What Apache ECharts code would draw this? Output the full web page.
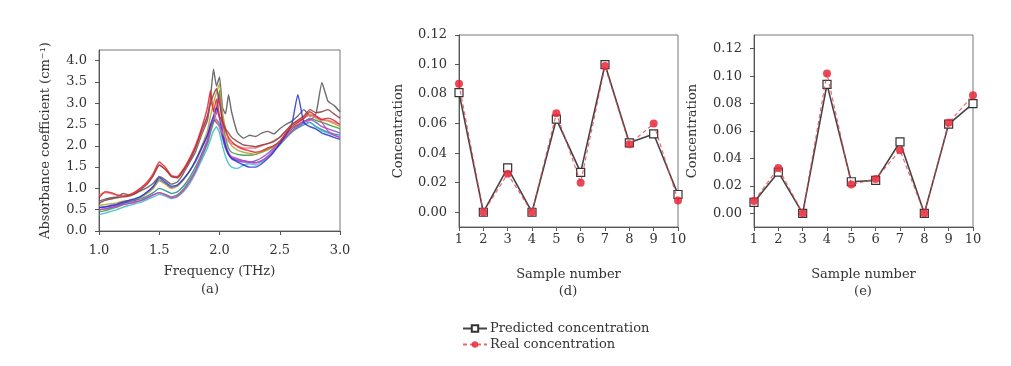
<!DOCTYPE html>
<html><head><meta charset="utf-8">
<script src="https://cdn.jsdelivr.net/npm/echarts@6/dist/echarts.min.js"></script>
<style>html,body{margin:0;padding:0;background:#fff}#c{width:1011px;height:366px}</style>
</head><body><div id="c"></div>
<script>
// ---- Panel (a): absorbance spectra ----
const freq = [1.00,1.05,1.10,1.15,1.20,1.25,1.30,1.35,1.40,1.45,1.50,1.55,1.60,1.65,1.70,1.75,1.80,1.85,1.90,1.925,1.95,1.975,2.00,2.025,2.05,2.075,2.10,2.15,2.20,2.25,2.30,2.35,2.40,2.45,2.50,2.55,2.60,2.65,2.70,2.75,2.80,2.85,2.90,2.95,3.00];
const specGray   = [0.70,0.75,0.78,0.80,0.88,0.85,0.88,0.95,1.02,1.12,1.28,1.20,1.10,1.15,1.35,1.60,1.85,2.25,2.60,3.10,3.80,3.40,3.62,2.90,2.75,3.20,2.80,2.30,2.18,2.25,2.22,2.30,2.34,2.28,2.40,2.50,2.58,2.70,2.85,2.70,2.75,3.48,3.05,2.95,2.80];
const specRed    = [0.78,0.92,0.90,0.85,0.82,0.85,0.92,1.02,1.15,1.35,1.62,1.50,1.30,1.28,1.45,1.70,2.00,2.40,2.90,3.30,2.80,3.10,2.70,2.55,2.35,2.20,2.10,1.98,1.92,1.88,1.85,1.88,1.95,2.00,2.10,2.30,2.45,2.55,2.65,2.80,2.70,2.62,2.65,2.60,2.50];
const specBrown  = [0.65,0.72,0.75,0.78,0.80,0.82,0.88,0.98,1.10,1.30,1.55,1.45,1.28,1.25,1.42,1.65,1.95,2.35,2.70,3.00,3.20,3.35,3.00,2.60,2.40,2.30,2.20,2.10,2.02,2.00,1.98,2.02,2.05,2.10,2.20,2.35,2.50,2.60,2.70,2.85,2.78,2.80,2.85,2.75,2.65];
const specBlue   = [0.55,0.57,0.60,0.63,0.68,0.72,0.76,0.82,0.92,1.05,1.25,1.15,1.05,1.08,1.22,1.40,1.65,1.95,2.25,2.50,2.70,2.90,2.65,2.30,2.00,1.80,1.70,1.62,1.55,1.50,1.50,1.58,1.70,1.85,2.05,2.25,2.50,3.20,2.55,2.45,2.40,2.30,2.25,2.20,2.15];
const specMagenta= [0.50,0.52,0.55,0.58,0.62,0.65,0.68,0.72,0.78,0.85,0.90,0.85,0.78,0.82,0.95,1.15,1.40,1.75,2.10,2.40,2.65,2.75,3.20,2.40,2.05,1.85,1.75,1.70,1.65,1.62,1.60,1.65,1.75,1.90,2.05,2.20,2.35,2.45,2.55,2.60,2.70,2.55,2.35,2.25,2.20];
const specGreen  = [0.45,0.48,0.52,0.56,0.62,0.65,0.68,0.72,0.78,0.85,0.90,0.86,0.80,0.85,0.98,1.18,1.42,1.72,2.05,2.30,2.55,2.90,3.30,2.60,2.20,1.95,1.85,1.80,1.78,1.78,1.80,1.85,1.92,2.00,2.10,2.25,2.40,2.48,2.55,2.65,2.60,2.55,2.50,2.45,2.40];
const specCyan   = [0.38,0.42,0.46,0.50,0.56,0.60,0.64,0.68,0.74,0.80,0.86,0.82,0.76,0.80,0.92,1.10,1.35,1.65,1.95,2.15,2.35,2.45,2.30,2.00,1.75,1.58,1.50,1.47,1.55,1.58,1.55,1.62,1.75,1.90,2.05,2.20,2.35,2.45,2.50,2.55,2.45,2.35,2.30,2.25,2.20];
const specOlive  = [0.60,0.62,0.64,0.66,0.70,0.72,0.75,0.80,0.88,1.00,1.18,1.10,1.00,1.05,1.20,1.40,1.65,1.98,2.35,2.70,3.00,3.25,3.45,2.80,2.40,2.15,2.00,1.90,1.85,1.82,1.80,1.85,1.90,1.98,2.10,2.25,2.42,2.55,2.65,2.75,2.65,2.60,2.58,2.52,2.45];
const specPurple = [0.55,0.56,0.58,0.62,0.66,0.70,0.74,0.80,0.90,1.02,1.20,1.12,1.02,1.06,1.20,1.40,1.62,1.92,2.25,2.45,2.60,2.55,2.45,2.20,1.95,1.80,1.72,1.65,1.62,1.62,1.65,1.72,1.82,1.95,2.10,2.25,2.40,2.50,2.58,2.62,2.55,2.45,2.40,2.35,2.30];
const specPink   = [0.85,0.90,0.88,0.84,0.82,0.84,0.90,1.00,1.12,1.30,1.55,1.45,1.28,1.25,1.40,1.65,1.95,2.30,2.70,3.05,2.85,2.60,2.45,2.30,2.20,2.10,2.05,2.00,1.95,1.95,1.95,2.00,2.05,2.12,2.20,2.35,2.50,2.58,2.65,2.72,2.68,2.62,2.60,2.55,2.50];
const specTeal   = [0.50,0.52,0.55,0.60,0.65,0.68,0.72,0.76,0.82,0.90,1.00,0.95,0.88,0.92,1.05,1.25,1.50,1.80,2.15,2.40,2.58,2.62,2.50,2.20,1.95,1.80,1.72,1.68,1.65,1.62,1.60,1.65,1.75,1.88,2.02,2.18,2.32,2.42,2.50,2.55,2.45,2.38,2.32,2.28,2.25];
const spectra = [
  ['gray', specGray, '#555555'],
  ['teal', specTeal, '#1f8a80'],
  ['cyan', specCyan, '#35b8c8'],
  ['green', specGreen, '#2e9a3c'],
  ['purple', specPurple, '#7a45c8'],
  ['magenta', specMagenta, '#e030d0'],
  ['olive', specOlive, '#b0a030'],
  ['blue', specBlue, '#2233d0'],
  ['pink', specPink, '#f07080'],
  ['brown', specBrown, '#8b3a3a'],
  ['red', specRed, '#e8202a']
];
const absTicks = [0,0.5,1.0,1.5,2.0,2.5,3.0,3.5,4.0];

// ---- Panels (d) and (e): concentrations ----
const samples = [1,2,3,4,5,6,7,8,9,10];
const predD = [0.081,0.000,0.030,0.000,0.063,0.027,0.100,0.047,0.053,0.012];
const realD = [0.087,0.000,0.026,0.000,0.067,0.020,0.099,0.046,0.060,0.008];
const predE = [0.008,0.030,0.000,0.094,0.023,0.024,0.052,0.000,0.065,0.080];
const realE = [0.009,0.033,0.000,0.102,0.021,0.025,0.046,0.000,0.066,0.086];
const concTicks = [0,0.02,0.04,0.06,0.08,0.10,0.12];

const FONT = 'DejaVu Serif';
const TXT = '#333';
const AX = '#555';
const pairs = (xs, ys) => xs.map((x, i) => [x, ys[i]]);

const grids = [
  {left: 99, top: 50, width: 241, height: 181},
  {left: 459, top: 35, width: 219, height: 192},
  {left: 754, top: 35, width: 219, height: 192}
].map(g => Object.assign({show: true, borderColor: '#777', borderWidth: 1, backgroundColor: 'transparent'}, g));

function xAx(idx, min, max, interval, dec, name, gap, margin) {
  return {
    type: 'value', gridIndex: idx, min, max, interval,
    name, nameLocation: 'middle', nameGap: gap,
    nameTextStyle: {fontFamily: FONT, fontSize: 13, color: TXT},
    axisLine: {show: true, onZero: false, lineStyle: {color: AX, width: 1}},
    axisTick: {show: true, inside: false, length: 4, lineStyle: {color: AX}},
    axisLabel: {fontFamily: FONT, fontSize: 13, color: TXT, margin,
      formatter: v => dec ? v.toFixed(dec) : String(Math.round(v))},
    splitLine: {show: false}
  };
}
function yAx(idx, min, max, ticks, dec, name, gap, margin) {
  return {
    type: 'value', gridIndex: idx, min, max,
    name, nameLocation: 'middle', nameGap: gap,
    nameTextStyle: {fontFamily: FONT, fontSize: 13, color: TXT},
    axisLine: {show: true, onZero: false, lineStyle: {color: AX, width: 1}},
    axisTick: {show: true, inside: false, length: 4, lineStyle: {color: AX}, customValues: ticks},
    axisLabel: {fontFamily: FONT, fontSize: 13, color: TXT, margin, customValues: ticks,
      formatter: v => v.toFixed(dec)},
    splitLine: {show: false}
  };
}

const series = [];
spectra.forEach(([n, ys, c]) => {
  series.push({
    name: n, type: 'line', xAxisIndex: 0, yAxisIndex: 0, data: pairs(freq, ys),
    showSymbol: false, smooth: 0.15, lineStyle: {color: c, width: 1.4, opacity: 0.85},
    itemStyle: {color: c}, silent: true, z: 2
  });
});
[[1, predD, realD], [2, predE, realE]].forEach(([i, p, r]) => {
  series.push({
    name: 'Predicted concentration', type: 'line', xAxisIndex: i, yAxisIndex: i,
    data: pairs(samples, p), symbol: 'rect', symbolSize: 8,
    lineStyle: {color: '#444', width: 1.6},
    itemStyle: {color: '#fff', borderColor: '#333', borderWidth: 1.2}, z: 3
  });
  series.push({
    name: 'Real concentration', type: 'line', xAxisIndex: i, yAxisIndex: i,
    data: pairs(samples, r), symbol: 'circle', symbolSize: 8,
    lineStyle: {color: '#e8404c', width: 1.2, type: [4, 3], opacity: 0.8},
    itemStyle: {color: '#e8283a', opacity: 0.85}, z: 4
  });
});

const option = {
  animation: false,
  backgroundColor: '#fff',
  grid: grids,
  xAxis: [
    xAx(0, 1.0, 3.0, 0.5, 1, 'Frequency (THz)', 34, 13),
    xAx(1, 1, 10, 1, 0, 'Sample number', 41, 6),
    xAx(2, 1, 10, 1, 0, 'Sample number', 41, 6)
  ],
  yAxis: [
    yAx(0, 0, 4.25, absTicks, 1, 'Absorbance coefficient (cm\u207B\u00B9)', 47, 12),
    yAx(1, -0.01, 0.12, concTicks, 2, 'Concentration', 54, 12),
    yAx(2, -0.01, 0.13, concTicks, 2, 'Concentration', 55, 12)
  ],
  legend: {
    data: ['Predicted concentration', 'Real concentration'],
    orient: 'vertical', left: 457, top: 317, itemGap: 3,
    itemWidth: 24, itemHeight: 8,
    textStyle: {fontFamily: FONT, fontSize: 13, color: TXT, padding: [0, 0, 0, -2]}
  },
  title: [
    {text: '(a)', left: 210, top: 283, textAlign: 'center', textStyle: {fontFamily: FONT, fontSize: 13, fontWeight: 'normal', color: TXT}, padding: 0},
    {text: '(d)', left: 568, top: 285, textAlign: 'center', textStyle: {fontFamily: FONT, fontSize: 13, fontWeight: 'normal', color: TXT}, padding: 0},
    {text: '(e)', left: 863, top: 285, textAlign: 'center', textStyle: {fontFamily: FONT, fontSize: 13, fontWeight: 'normal', color: TXT}, padding: 0}
  ],
  series
};
const chart = echarts.init(document.getElementById('c'), null, {renderer: 'canvas'});
chart.setOption(option);
</script></body></html>
